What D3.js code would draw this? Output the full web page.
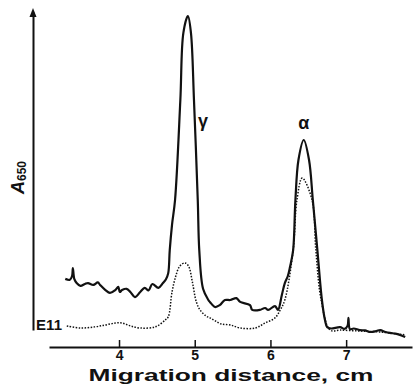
<!DOCTYPE html>
<html>
<head>
<meta charset="utf-8">
<script src="https://cdn.jsdelivr.net/npm/d3@7"></script>
<style>
  body { margin: 0; background: #fff; }
  svg { display: block; }
  text { font-family: "Liberation Sans", "DejaVu Sans", sans-serif; font-weight: bold; fill: #111; }
</style>
</head>
<body>
<svg id="chart" width="414" height="385"></svg>
<script>
// migration distance (cm), absorbance at 650 nm (arbitrary units)
const stainedX = [3.29, 3.35, 3.38, 3.39, 3.41, 3.44, 3.49, 3.55, 3.59, 3.66, 3.72, 3.75, 3.82, 3.88, 3.95, 3.99, 4.01, 4.04, 4.1, 4.15, 4.21, 4.28, 4.34, 4.39, 4.44, 4.52, 4.58, 4.62, 4.65, 4.67, 4.7, 4.74, 4.81, 4.85, 4.91, 4.95, 4.99, 5.04, 5.06, 5.11, 5.18, 5.2, 5.27, 5.33, 5.4, 5.47, 5.55, 5.6, 5.73, 5.76, 5.86, 5.93, 5.97, 6.06, 6.1, 6.15, 6.19, 6.23, 6.26, 6.3, 6.33, 6.37, 6.44, 6.51, 6.56, 6.62, 6.68, 6.72, 6.75, 6.8, 6.92, 6.98, 7.02, 7.03, 7.05, 7.1, 7.18, 7.25, 7.32, 7.4, 7.45, 7.52, 7.58, 7.65, 7.71, 7.78];
const stainedA = [0.191, 0.188, 0.2, 0.225, 0.19, 0.178, 0.169, 0.175, 0.178, 0.172, 0.18, 0.172, 0.156, 0.147, 0.156, 0.166, 0.15, 0.156, 0.16, 0.15, 0.134, 0.15, 0.163, 0.155, 0.175, 0.163, 0.178, 0.19, 0.209, 0.281, 0.36, 0.4375, 0.75, 0.96, 1.0125, 0.96, 0.75, 0.4375, 0.281, 0.16, 0.125, 0.119, 0.103, 0.109, 0.125, 0.125, 0.131, 0.119, 0.109, 0.094, 0.094, 0.1, 0.094, 0.106, 0.094, 0.14, 0.178, 0.2, 0.23, 0.281, 0.4375, 0.5625, 0.625, 0.5625, 0.4375, 0.281, 0.125, 0.063, 0.04, 0.036, 0.04, 0.035, 0.045, 0.069, 0.034, 0.036, 0.031, 0.03, 0.025, 0.028, 0.031, 0.025, 0.022, 0.02, 0.016, 0.009];

const controlX = [3.31, 3.49, 3.68, 3.82, 3.95, 4.04, 4.15, 4.28, 4.48, 4.61, 4.65, 4.7, 4.75, 4.8, 4.87, 4.92, 4.97, 5.02, 5.07, 5.15, 5.2, 5.27, 5.35, 5.47, 5.6, 5.8, 5.93, 6.06, 6.13, 6.19, 6.3, 6.35, 6.42, 6.55, 6.6, 6.67, 6.79, 6.92, 7.18, 7.45, 7.78];
const controlA = [0.044, 0.0375, 0.041, 0.047, 0.053, 0.053, 0.044, 0.0375, 0.041, 0.0625, 0.072, 0.15, 0.2, 0.23, 0.241, 0.23, 0.18, 0.12, 0.094, 0.075, 0.069, 0.06, 0.05, 0.047, 0.0375, 0.0375, 0.053, 0.069, 0.094, 0.125, 0.281, 0.4375, 0.506, 0.4375, 0.281, 0.125, 0.031, 0.031, 0.028, 0.025, 0.016];

const xTicks = [4, 5, 6, 7];
const peakLabels = [{ text: 'γ', x: 5.11, a: 0.665 }, { text: 'α', x: 6.44, a: 0.66 }];

const svg = d3.select('#chart');

const xScale = d3.scaleLinear().domain([3.075, 7.87]).range([49, 412]);
const yScale = d3.scaleLinear().domain([0.03125, 1.025]).range([330, 12]);

// x axis, ticks pointing up
const xAxis = svg.append('g')
  .attr('transform', 'translate(0,347)')
  .call(d3.axisBottom(xScale).tickValues(xTicks).tickFormat(d3.format('d'))
    .tickSizeInner(-7).tickSizeOuter(0).tickPadding(3));
xAxis.select('.domain').attr('stroke', '#111').attr('stroke-width', 2);
xAxis.selectAll('.tick line').attr('stroke', '#111').attr('stroke-width', 1.5);
xAxis.selectAll('.tick text')
  .attr('font-size', 14).attr('font-family', '"DejaVu Sans", sans-serif')
  .attr('font-weight', 'bold').attr('fill', '#111');

// y axis with arrowhead
const yAxis = svg.append('g')
  .attr('transform', 'translate(33,0)')
  .call(d3.axisLeft(yScale).tickValues([]).tickSizeOuter(0));
yAxis.select('.domain').attr('stroke', '#111').attr('stroke-width', 2);
svg.append('path')
  .attr('d', 'M33,8 L36.5,17 L29.5,17 Z')
  .attr('fill', '#111');

const line = d3.line()
  .x(d => xScale(d[0]))
  .y(d => yScale(d[1]))
  .curve(d3.curveCatmullRom.alpha(0.5));

svg.append('path')
  .datum(d3.zip(controlX, controlA))
  .attr('fill', 'none')
  .attr('stroke', '#111')
  .attr('stroke-width', 1.5)
  .attr('stroke-dasharray', '1.5,1.5')
  .attr('d', line);

svg.append('path')
  .datum(d3.zip(stainedX, stainedA))
  .attr('fill', 'none')
  .attr('stroke', '#111')
  .attr('stroke-width', 2.2)
  .attr('stroke-linejoin', 'round')
  .attr('d', line);

svg.selectAll('.peak')
  .data(peakLabels)
  .join('text')
  .attr('class', 'peak')
  .attr('x', d => xScale(d.x))
  .attr('y', d => yScale(d.a))
  .attr('text-anchor', 'middle')
  .attr('font-size', 18)
  .text(d => d.text);

svg.append('text')
  .attr('x', 36).attr('y', 330)
  .attr('font-size', 15)
  .attr('textLength', 26)
  .text('E11');

svg.append('text')
  .attr('x', 231).attr('y', 381)
  .attr('text-anchor', 'middle')
  .attr('font-family', '"DejaVu Sans", sans-serif')
  .attr('font-size', 16)
  .attr('textLength', 285)
  .attr('lengthAdjust', 'spacingAndGlyphs')
  .text('Migration distance, cm');

const yLabel = svg.append('text')
  .attr('transform', 'translate(24,194) rotate(-90)')
  .attr('font-size', 18);
yLabel.append('tspan').attr('font-style', 'italic').text('A');
yLabel.append('tspan').attr('font-size', 12).attr('dy', 2).text('650');
</script>
</body>
</html>
